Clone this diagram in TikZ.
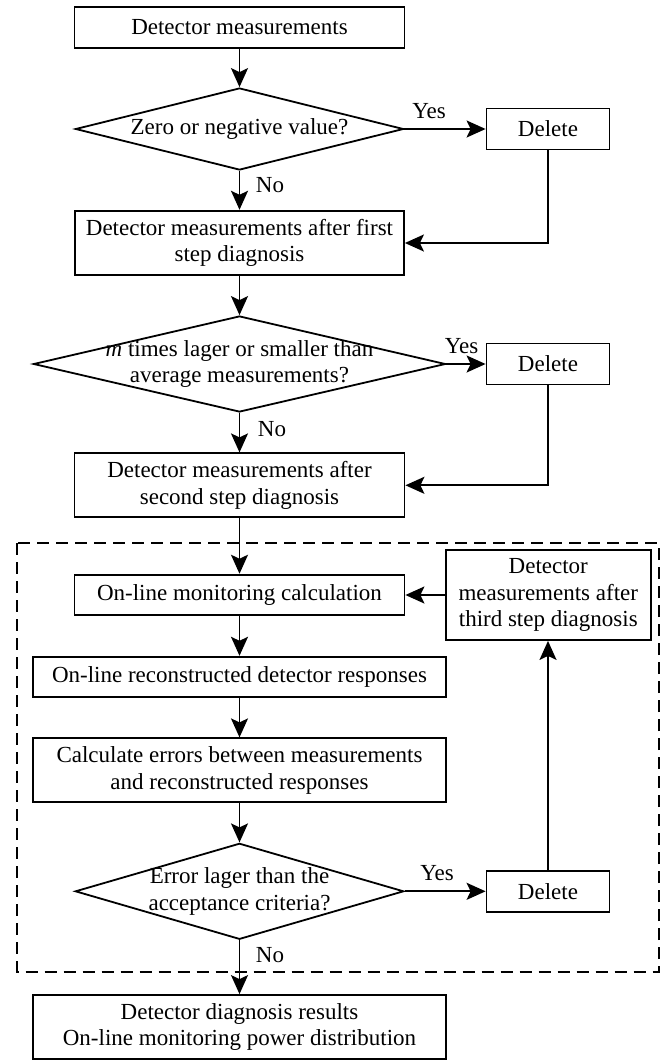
\documentclass[tikz,border=0pt]{standalone}
\usepackage{fontspec}
\setmainfont{Liberation Serif}
\usetikzlibrary{shapes.geometric,arrows.meta}
\begin{document}
\begin{tikzpicture}[x=1pt,y=-1pt,
  every node/.style={font=\fontsize{23}{26.7}\selectfont},
  box/.style={draw, line width=1.8pt, inner sep=0pt, align=center},
  dia/.style={draw, diamond, line width=1.8pt, inner sep=0pt},
  txt/.style={align=center, inner sep=0pt},
  flow/.style={line width=1.8pt, -{Stealth[length=19pt,width=17pt,inset=4pt]}},
  lbl/.style={anchor=base, inner sep=0pt},
  frame/.style={line width=1.8pt, dash pattern=on 12pt off 7pt}]
\useasboundingbox (0,0) rectangle (661,1061);

% first diagnosis step
\node[box, minimum width=330pt, minimum height=40.4pt] (m0) at (239.5,27.5) {Detector measurements};
\node[dia, minimum width=328pt, minimum height=82pt] (q1) at (239.5,129) {};
\node[txt] (q1t) at (q1) {Zero or negative value?};
\node[box, minimum width=123pt, minimum height=41pt] (x1) at (548,129) {Delete};
\node[box, minimum width=329pt, minimum height=64.6pt] (m1) at (239.5,243) {Detector measurements after first\\step diagnosis};

% second diagnosis step
\node[dia, minimum width=412pt, minimum height=96pt] (q2) at (239.5,364) {};
\node[txt] (q2t) at (q2) {\textit{m} times lager or smaller than\\average measurements?};
\node[box, minimum width=123pt, minimum height=41pt] (x2) at (548,364) {Delete};
\node[box, minimum width=330pt, minimum height=64pt] (m2) at (239.5,485.3) {Detector measurements after\\second step diagnosis};

% third diagnosis step (on-line loop)
\draw[frame] (17,543.3) rectangle (659,971.7);
\node[box, minimum width=330pt, minimum height=40.7pt] (c1) at (239.5,595) {On-line monitoring calculation};
\node[box, minimum width=204.7pt, minimum height=90pt] (m3) at (548.3,595) {Detector\\measurements after\\third step diagnosis};
\node[box, minimum width=412.7pt, minimum height=40.6pt] (c2) at (239.5,677) {On-line reconstructed detector responses};
\node[box, minimum width=412.7pt, minimum height=64pt] (c3) at (239.5,770.3) {Calculate errors between measurements\\and reconstructed responses};
\node[dia, minimum width=328.5pt, minimum height=96pt] (q3) at (239.5,891.3) {};
\node[txt] (q3t) at (q3) {Error lager than the\\acceptance criteria?};
\node[box, minimum width=123pt, minimum height=41pt] (x3) at (548,891.3) {Delete};

% results
\node[box, minimum width=412.7pt, minimum height=64pt] (r) at (239.5,1027) {Detector diagnosis results\\On-line monitoring power distribution};

% branch labels
\node[lbl] (y1) at (429,118.3) {Yes};
\node[lbl] (n1) at (270,192.7) {No};
\node[lbl] (y2) at (461.5,353.3) {Yes};
\node[lbl] (n2) at (272,436) {No};
\node[lbl] (y3) at (437,880) {Yes};
\node[lbl] (n3) at (270,962) {No};

% connectors
\draw[flow] (m0) -- (q1);
\draw[flow] (q1.east) -- (x1.west);
\draw[flow] (q1) -- (m1);
\draw[flow] (x1.south) |- (m1.east);
\draw[flow] (m1) -- (q2);
\draw[flow] (q2.east) -- (x2.west);
\draw[flow] (q2) -- (m2);
\draw[flow] (x2.south) |- (m2.east);
\draw[flow] (m2) -- (c1);
\draw[flow] (m3.west) -- (c1.east);
\draw[flow] (c1) -- (c2);
\draw[flow] (c2) -- (c3);
\draw[flow] (c3) -- (q3);
\draw[flow] (q3.east) -- (x3.west);
\draw[flow] (x3.north) -- (x3.north |- m3.south);
\draw[flow] (q3) -- (r);
\end{tikzpicture}
\end{document}
